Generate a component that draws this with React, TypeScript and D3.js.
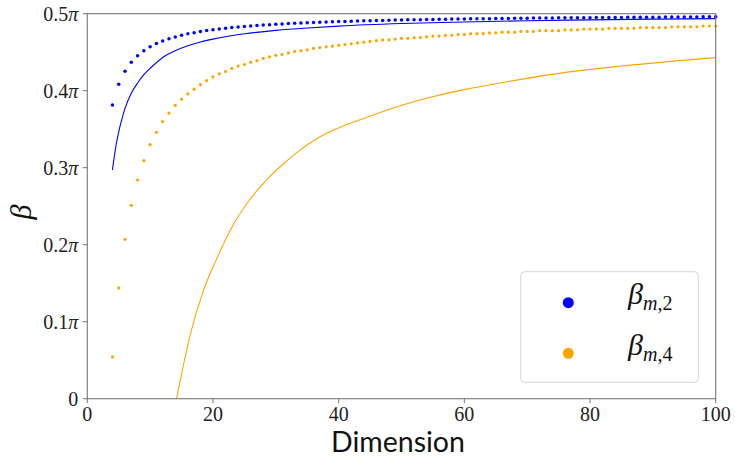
import * as d3 from 'd3'

// dots: one value per dimension, starting at m = 4 (units of pi)
const DIM_START = 4
const betaM2 = [
  0.3815, 0.4084, 0.4254, 0.4370, 0.4455, 0.4520, 0.4571, 0.4612, 0.4646, 0.4675,
  0.4699, 0.4720, 0.4738, 0.4754, 0.4768, 0.4781, 0.4792, 0.4802, 0.4812, 0.4820,
  0.4828, 0.4835, 0.4841, 0.4847, 0.4853, 0.4858, 0.4863, 0.4867, 0.4872, 0.4876,
  0.4879, 0.4883, 0.4886, 0.4889, 0.4892, 0.4895, 0.4898, 0.4900, 0.4903, 0.4905,
  0.4907, 0.4909, 0.4911, 0.4913, 0.4915, 0.4917, 0.4918, 0.4920, 0.4922, 0.4923,
  0.4925, 0.4926, 0.4927, 0.4929, 0.4930, 0.4931, 0.4932, 0.4933, 0.4934, 0.4935,
  0.4936, 0.4937, 0.4938, 0.4939, 0.4940, 0.4941, 0.4942, 0.4943, 0.4944, 0.4944,
  0.4945, 0.4946, 0.4947, 0.4947, 0.4948, 0.4949, 0.4949, 0.4950, 0.4950, 0.4951,
  0.4952, 0.4952, 0.4953, 0.4953, 0.4954, 0.4954, 0.4955, 0.4955, 0.4956, 0.4956,
  0.4957, 0.4957, 0.4958, 0.4958, 0.4959, 0.4959, 0.4959,
]
const betaM4 = [
  0.0542, 0.1438, 0.2070, 0.2512, 0.2840, 0.3091, 0.330, 0.346, 0.360, 0.371,
  0.381, 0.389, 0.396, 0.402, 0.408, 0.413, 0.418, 0.422, 0.425, 0.429,
  0.432, 0.434, 0.437, 0.439, 0.442, 0.444, 0.446, 0.447, 0.449, 0.451,
  0.452, 0.453, 0.455, 0.456, 0.457, 0.458, 0.459, 0.460, 0.461, 0.462,
  0.463, 0.464, 0.465, 0.466, 0.466, 0.467, 0.468, 0.468, 0.469, 0.469,
  0.470, 0.471, 0.471, 0.472, 0.472, 0.473, 0.473, 0.474, 0.474, 0.474,
  0.475, 0.475, 0.476, 0.476, 0.476, 0.477, 0.477, 0.477, 0.478, 0.478,
  0.478, 0.478, 0.479, 0.479, 0.479, 0.480, 0.480, 0.480, 0.480, 0.481,
  0.481, 0.481, 0.481, 0.481, 0.482, 0.482, 0.482, 0.482, 0.482, 0.483,
  0.483, 0.483, 0.483, 0.483, 0.484, 0.484, 0.484,
]

// continuous curves, read at sample dimensions
const lineM2Dims = [4, 4.5, 5, 5.5, 6, 7, 8, 9, 10, 12, 14, 16, 18, 20, 25, 30, 35, 40, 50, 60, 70, 80, 90, 100]
const lineM2Vals = [0.297, 0.3255, 0.3464, 0.363, 0.377, 0.3967, 0.410, 0.421, 0.429, 0.4432, 0.4519, 0.4583, 0.4632, 0.467, 0.4739, 0.4784, 0.4815, 0.4839, 0.4872, 0.4893, 0.4909, 0.492, 0.4929, 0.4936]
const lineM4Dims = [14.2, 15, 16.3, 18.5, 20.5, 23.2, 26, 28.5, 31, 33.8, 36.5, 39.1, 44.5, 49.8, 55.1, 60.4, 65.7, 75, 85, 100]
const lineM4Vals = [0, 0.032, 0.0805, 0.141, 0.180, 0.2255, 0.260, 0.284, 0.3035, 0.3225, 0.3375, 0.3485, 0.3655, 0.3805, 0.3925, 0.402, 0.410, 0.4225, 0.432, 0.443]

const xTicks = [0, 20, 40, 60, 80, 100]
const yTicks = [0, 0.1, 0.2, 0.3, 0.4, 0.5]

const W = 735
const H = 460
const M = { left: 87.3, right: 715.7, top: 13.7, bottom: 398.7 }
const BLUE = '#0000ff'
const ORANGE = '#ffa500'
const SPINE = '#777777'
const SERIF = '"Liberation Serif", "DejaVu Serif", serif'

export default function App() {
  const x = d3.scaleLinear().domain([0, 100]).range([M.left, M.right])
  const y = d3.scaleLinear().domain([0, 0.5]).range([M.bottom, M.top])

  const line = d3.line<[number, number]>()
    .x(d => x(d[0]))
    .y(d => y(d[1]))
    .curve(d3.curveMonotoneX)

  const ptsM2 = lineM2Dims.map((m, i) => [m, lineM2Vals[i]] as [number, number])
  const ptsM4 = lineM4Dims.map((m, i) => [m, lineM4Vals[i]] as [number, number])

  return (
    <svg width={W} height={H} style={{ position: 'absolute', left: 0, top: 0, background: '#fff' }}>
      <defs>
        <clipPath id="plot">
          <rect x={M.left} y={M.top - 3} width={M.right - M.left + 3} height={M.bottom - M.top + 3} />
        </clipPath>
      </defs>
      <rect width={W} height={H} fill="#fff" />

      <g clipPath="url(#plot)">
        <path d={line(ptsM2) ?? ''} fill="none" stroke={BLUE} strokeWidth={1.1} />
        <path d={line(ptsM4) ?? ''} fill="none" stroke={ORANGE} strokeWidth={1.1} />
        {betaM2.map((v, i) => (
          <circle key={`b${i}`} cx={x(DIM_START + i)} cy={y(v)} r={1.75} fill={BLUE} />
        ))}
        {betaM4.map((v, i) => (
          <circle key={`o${i}`} cx={x(DIM_START + i)} cy={y(v)} r={1.6} fill={ORANGE} />
        ))}
      </g>

      {/* frame */}
      <rect x={M.left} y={M.top} width={M.right - M.left} height={M.bottom - M.top}
        fill="none" stroke={SPINE} strokeWidth={1.1} />

      {/* x axis */}
      {xTicks.map(t => (
        <g key={`xt${t}`}>
          <line x1={x(t)} x2={x(t)} y1={M.bottom} y2={M.bottom + 4.5} stroke={SPINE} strokeWidth={1} />
          <text x={x(t)} y={421} textAnchor="middle" fontFamily={SERIF} fontSize={20} fill="#222">{t}</text>
        </g>
      ))}
      <text x={398} y={452} textAnchor="middle" fontFamily="Lato, 'Open Sans', sans-serif" fontSize={28.5} fill="#111">
        Dimension
      </text>

      {/* y axis */}
      {yTicks.map(t => (
        <g key={`yt${t}`}>
          <line x1={M.left - 4.5} x2={M.left} y1={y(t)} y2={y(t)} stroke={SPINE} strokeWidth={1} />
          <text x={M.left - 9} y={y(t) + 7} textAnchor="end" fontFamily={SERIF} fontSize={20} fill="#222">
            {t === 0 ? '0' : (
              <>
                {t.toFixed(1)}
                <tspan fontStyle="italic">π</tspan>
              </>
            )}
          </text>
        </g>
      ))}
      <text transform="translate(31,212) rotate(-90)" textAnchor="middle" fontFamily={SERIF}
        fontStyle="italic" fontSize={30} fill="#111">β</text>

      {/* legend */}
      <rect x={520.7} y={271.7} width={177.6} height={110.6} rx={4} fill="#fff" fillOpacity={0.8}
        stroke="#d6d6d6" strokeWidth={1} />
      <circle cx={568.3} cy={302.7} r={5.5} fill={BLUE} />
      <circle cx={568.3} cy={353.3} r={5.5} fill={ORANGE} />
      <text x={628} y={304} fontFamily={SERIF} fontSize={30} fill="#111">
        <tspan fontStyle="italic">β</tspan>
        <tspan fontSize={20} dy={6}><tspan fontStyle="italic">m</tspan>,2</tspan>
      </text>
      <text x={628} y={355} fontFamily={SERIF} fontSize={30} fill="#111">
        <tspan fontStyle="italic">β</tspan>
        <tspan fontSize={20} dy={6}><tspan fontStyle="italic">m</tspan>,4</tspan>
      </text>
    </svg>
  )
}
